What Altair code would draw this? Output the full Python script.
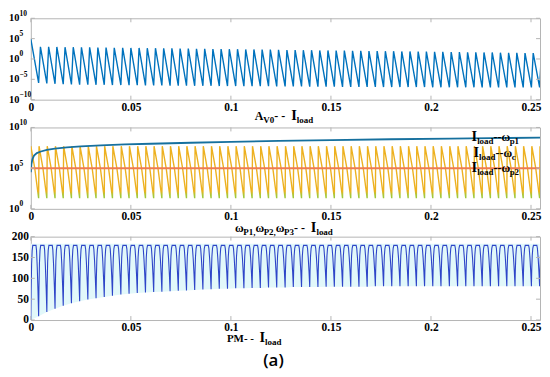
import altair as alt
import pandas as pd

# ---------------- data ----------------
XMAX = 0.2545
XTICKS = [0, 0.05, 0.1, 0.15, 0.2, 0.25]
LOG_TICKS = [1e-10, 1e-5, 1, 1e5, 1e10]
LOG_EXP = ["−10", "−5", "0", "5", "10"]
LOG_TICKS2 = [1, 1e5, 1e10]
LOG_EXP2 = ["0", "5", "10"]
PM_TICKS = [0, 50, 100, 150, 200]

# switching instants (troughs) shared by the three panels
T = [0.0039, 0.0080, 0.0121, 0.0162, 0.0203, 0.0244, 0.0285, 0.0326, 0.0367, 0.0408,
     0.0450, 0.0491, 0.0532, 0.0573, 0.0614, 0.0655, 0.0696, 0.0737, 0.0778, 0.0819,
     0.0860, 0.0901, 0.0942, 0.0983, 0.1024, 0.1065, 0.1106, 0.1147, 0.1188, 0.1229,
     0.1271, 0.1312, 0.1353, 0.1394, 0.1435, 0.1476, 0.1517, 0.1558, 0.1599, 0.1640,
     0.1681, 0.1722, 0.1763, 0.1804, 0.1845, 0.1886, 0.1927, 0.1968, 0.2009, 0.2050,
     0.2092, 0.2133, 0.2174, 0.2215, 0.2256, 0.2297, 0.2338, 0.2379, 0.2420, 0.2461,
     0.2502, 0.2543]

# panel 1: A_V0 (log10 values)
AV_START = 4.9
AV_RISE = 0.0009
AV_PEAK = [3.0, 3.0, 2.95, 2.9, 2.9, 2.85, 2.85, 2.8, 2.8, 2.75,
           2.75, 2.7, 2.7, 2.65, 2.65, 2.6, 2.6, 2.55, 2.55, 2.5,
           2.5, 2.45, 2.45, 2.4, 2.4, 2.35, 2.35, 2.3, 2.3, 2.25,
           2.2, 2.2, 2.15, 2.15, 2.1, 2.1, 2.05, 2.05, 2.0, 2.0,
           1.95, 1.95, 1.9, 1.9, 1.85, 1.85, 1.8, 1.8, 1.75, 1.75,
           1.7, 1.7, 1.65, 1.65, 1.6, 1.6, 1.55, 1.5, 1.5, 1.45,
           1.45, 1.4]
AV_TROUGH = [-5.9, -6.0, -6.1, -6.2, -6.25, -6.3, -6.3, -6.35, -6.35, -6.4,
             -6.4, -6.45, -6.45, -6.5, -6.5, -6.5, -6.55, -6.55, -6.55, -6.6,
             -6.6, -6.6, -6.65, -6.65, -6.65, -6.7, -6.7, -6.7, -6.7, -6.75,
             -6.75, -6.75, -6.75, -6.8, -6.8, -6.8, -6.8, -6.85, -6.85, -6.85,
             -6.85, -6.85, -6.9, -6.9, -6.9, -6.9, -6.9, -6.9, -6.95, -6.95,
             -6.95, -6.95, -6.95, -6.95, -7.0, -7.0, -7.0, -7.0, -7.0, -7.0,
             -7.0, -7.0]

# panel 2 (log10 values)
WP1_T = [0, 0.0003, 0.0008, 0.0016, 0.003, 0.005, 0.008, 0.012, 0.018, 0.025,
         0.035, 0.047, 0.06, 0.08, 0.1, 0.124, 0.15, 0.18, 0.21, 0.2545]
WP1_LOG = [4.5, 5.5, 6.1, 6.55, 6.85, 7.05, 7.25, 7.4, 7.55, 7.67,
           7.8, 7.92, 8.0, 8.12, 8.22, 8.35, 8.45, 8.55, 8.63, 8.75]
WP2_LOG = 5.0
WC_PEAK = 7.7
WC_TROUGH = 1.3
WC_JUMP = 0.0002
WC_PHASE = [0, 0.5, 1.0]
WC_FRAC = [0, 0.42, 1.0]

# panel 3: PM (degrees)
PM_TOP = 179
PM_TROUGH = [9, 19, 27, 34, 40, 45, 49, 52, 55, 58,
             61, 63, 65, 66, 67, 68, 69, 70, 71, 72,
             73, 74, 75, 75, 76, 76, 77, 77, 78, 78,
             78, 79, 79, 79, 79, 80, 80, 80, 80, 80,
             80, 81, 81, 81, 81, 81, 81, 81, 81, 81,
             81, 81, 81, 81, 81, 81, 81, 81, 81, 81,
             81, 81]
PM_PHASE = [0, 0.04, 0.1, 0.17, 0.25, 0.66, 0.73, 0.82, 0.92, 1.0]
PM_FRAC = [0, 0.4, 0.75, 0.93, 1.0, 1.0, 0.93, 0.7, 0.35, 0.0]
BAND_TOP = 183

# ---------------- tables built from the arrays ----------------
rows = [(0.0, 10 ** AV_START)]
for k in range(len(T)):
    rows.append((T[k], 10 ** AV_TROUGH[k]))
    rows.append((T[k] + AV_RISE, 10 ** AV_PEAK[k]))
df_av = pd.DataFrame(rows, columns=["t", "v"])
df_av["i"] = range(len(df_av))

rows = []
prev = 0.0
for k in range(len(T)):
    for ph, fr in zip(WC_PHASE, WC_FRAC):
        rows.append((prev + ph * (T[k] - prev), 10 ** (WC_PEAK - fr * (WC_PEAK - WC_TROUGH))))
    prev = T[k] + WC_JUMP
rows.append((prev, 10 ** WC_PEAK))
df_wc = pd.DataFrame(rows, columns=["t", "v"])
df_wc["i"] = range(len(df_wc))

df_wp1 = pd.DataFrame({"t": WP1_T, "v": [10 ** v for v in WP1_LOG]})
df_wp2 = pd.DataFrame({"t": [0, XMAX], "v": [10 ** WP2_LOG] * 2})

B = [0.0] + T + [T[-1] + (T[-1] - T[-2])]
L = [0] + PM_TROUGH + [PM_TROUGH[-1]]
rows = []
for k in range(len(B) - 1):
    t0, t1 = B[k], B[k + 1]
    for j, (ph, fr) in enumerate(zip(PM_PHASE, PM_FRAC)):
        if k > 0 and j == 0:
            continue
        low = L[k] if ph < 0.5 else L[k + 1]
        rows.append((t0 + ph * (t1 - t0), low + fr * (PM_TOP - low)))
df_pm = pd.DataFrame(rows, columns=["t", "v"])
df_pm["i"] = range(len(df_pm))
df_band = pd.DataFrame({"t": B[:-1], "v": L[:-1], "v2": [BAND_TOP] * (len(B) - 1)})

# ---------------- styling ----------------
W = 513
H1, H2, H3 = 82, 82, 84
FONT = "Liberation Serif"
FRAME = "#b4b4b4"
ONE = pd.DataFrame({"k": [0]})

xscale = alt.Scale(domain=[0, XMAX], nice=False, zero=False)
xaxis = alt.Axis(values=XTICKS, format="~g", labelFlush=False, ticks=False, domain=False,
                 grid=False, title=None, labelPadding=2, labelFontSize=11.5)
y1scale = alt.Scale(type="log", domain=[1e-10, 1e10], nice=False)
y2scale = alt.Scale(type="log", domain=[1, 1e10], nice=False)
y3scale = alt.Scale(domain=[0, 200], nice=False, zero=False)
y3axis = alt.Axis(values=PM_TICKS, labelPadding=2.5, labelFlush=False, ticks=False,
                  domain=False, grid=False, title=None, labelFontSize=11.5)

X = alt.X("t:Q", scale=xscale, axis=xaxis)

WID = {"A": 0.722, "V": 0.722, "P": 0.611, "M": 0.944, "I": 0.389, "l": 0.278, "o": 0.5,
       "a": 0.5, "d": 0.556, "p": 0.556, "c": 0.444, "-": 0.333, " ": 0.25, ",": 0.25,
       "ω": 0.69}


def seg_w(s, fs):
    return sum(WID.get(c, 0.5) for c in s) * fs


def rich(segs, x, y, center=False):
    total = sum(seg_w(s, fs) for s, fs, dy in segs)
    if center:
        x -= total / 2
    out = []
    for s, fs, dy in segs:
        out.append(alt.Chart(ONE).mark_text(text=s, font=FONT, fontWeight="bold", fontSize=fs,
                                            align="left", baseline="alphabetic", color="black")
                   .encode(x=alt.value(x), y=alt.value(y + dy)))
        x += seg_w(s, fs)
    return out


def log_labels(yscale, vals, exps):
    d = pd.DataFrame({"v": vals, "e": exps})
    Y = alt.Y("v:Q", scale=yscale, axis=None)
    base = alt.Chart(d).mark_text(font=FONT, fontWeight="bold", fontSize=10.5, align="left",
                                  baseline="middle", color="black", text="10").encode(
        y=Y, x=alt.value(-22))
    sup = alt.Chart(d).mark_text(font=FONT, fontWeight="bold", fontSize=7.5, align="left",
                                 baseline="middle", color="black", dy=-4.5).encode(
        y=Y, x=alt.value(-11.3), text="e:N")
    return [base, sup]


def ticks(H, Y, yvals):
    dx = pd.DataFrame({"t": XTICKS})
    dy = pd.DataFrame({"v": yvals})
    return [
        alt.Chart(dx).mark_rule(color=FRAME).encode(x=X, y=alt.value(H), y2=alt.value(H - 4)),
        alt.Chart(dx).mark_rule(color=FRAME).encode(x=X, y=alt.value(0), y2=alt.value(4)),
        alt.Chart(dy).mark_rule(color=FRAME).encode(y=Y, x=alt.value(0), x2=alt.value(4)),
        alt.Chart(dy).mark_rule(color=FRAME).encode(y=Y, x=alt.value(W), x2=alt.value(W - 4)),
    ]


SUB = 9
# panel 1
Y1 = alt.Y("v:Q", scale=y1scale, axis=None)
p1_line = alt.Chart(df_av).mark_line(color="#0072BD", strokeWidth=1.4, clip=True).encode(
    x=X, y=Y1, order="i:Q")
t1 = rich([("A", 12, 0), ("V0", SUB, 3), (" - - ", 12, 0), ("I", 14.5, 0), ("load", SUB, 3)],
          255, 102, center=True)
p1 = alt.layer(p1_line, *ticks(H1, Y1, LOG_TICKS), *log_labels(y1scale, LOG_TICKS, LOG_EXP),
               *t1).properties(width=W, height=H1)

# panel 2
grad = alt.Gradient(gradient="linear",
                    stops=[alt.GradientStop(color="#EDB120", offset=0),
                           alt.GradientStop(color="#EDB120", offset=0.86),
                           alt.GradientStop(color="#A8C83A", offset=0.94),
                           alt.GradientStop(color="#9CC83A", offset=1)],
                    x1=0, x2=0, y1=0, y2=1)
Y2 = alt.Y("v:Q", scale=y2scale, axis=None)
p2_wc = alt.Chart(df_wc).mark_line(stroke=grad, strokeWidth=1.4, clip=True).encode(x=X, y=Y2, order="i:Q")
p2_wp1 = alt.Chart(df_wp1).mark_line(color="#16709E", strokeWidth=1.8, clip=True).encode(x=X, y=Y2)
p2_wp2 = alt.Chart(df_wp2).mark_line(color="#EE7B52", strokeWidth=2, clip=True).encode(x=X, y=Y2)
t2 = rich([("ω", 12, 0), ("P1,", SUB, 3), ("ω", 12, 0), ("P2,", SUB, 3), ("ω", 12, 0),
           ("P3", SUB, 3), (" - - ", 12, 0), ("I", 14.5, 0), ("load", SUB, 3)],
          255, 105, center=True)
leg = []
for lab, yy in [("p1", 14), ("c", 30), ("p2", 45)]:
    leg += rich([("I", 14.5, 0), ("load", SUB, 3), ("--", 12, 0), ("ω", 12, 0), (lab, SUB, 3)],
                444 if lab != "c" else 446, yy)
p2 = alt.layer(p2_wc, p2_wp1, p2_wp2, *ticks(H2, Y2, LOG_TICKS2),
               *log_labels(y2scale, LOG_TICKS2, LOG_EXP2), *t2, *leg).properties(width=W, height=H2)

# panel 3
Y3 = alt.Y("v:Q", scale=y3scale, axis=y3axis)
p3_band = alt.Chart(df_band).mark_area(color="#E2F8FA", clip=True).encode(
    x=X, y=Y3, y2=alt.Y2("v2:Q"))
p3_line = alt.Chart(df_pm).mark_line(color="#2E45C8", strokeWidth=1.1, clip=True).encode(
    x=X, y=Y3, order="i:Q")
t3 = rich([("PM", 11, 0), (" - - ", 11, 0), ("I", 14.5, 0), ("load", SUB, 3)], 225, 106.5, center=True)
tag = alt.Chart(ONE).mark_text(text="(a)", font="Open Sans", fontWeight=600, fontSize=17,
                               align="center", baseline="alphabetic", color="black").encode(
    x=alt.value(244.5), y=alt.value(130))
p3 = alt.layer(p3_band, p3_line, *ticks(H3, Y3, PM_TICKS), *t3, tag).properties(
    width=W, height=H3)

chart = alt.vconcat(p1, p2, p3, spacing=28, bounds="flush").properties(
    padding={"left": 0, "top": 0, "right": 0, "bottom": 0}
).configure_view(stroke=FRAME, strokeWidth=1).configure_axis(
    labelFont=FONT, labelFontWeight="bold", labelColor="black")

chart.save("out.html", embed_options={"renderer": "svg", "actions": False})
